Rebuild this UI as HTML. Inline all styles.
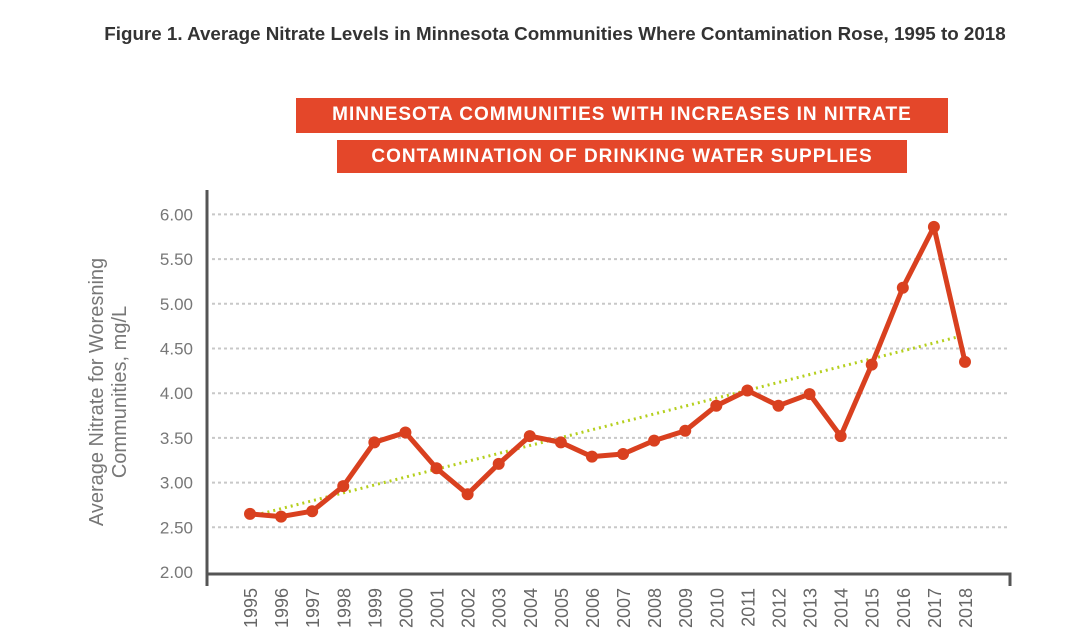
<!DOCTYPE html>
<html><head><meta charset="utf-8"><style>
body{margin:0;background:#fff;width:1090px;height:631px;overflow:hidden;font-family:"Liberation Sans",sans-serif}
.title{position:absolute;top:23px;left:0;width:1110px;text-align:center;font-weight:bold;font-size:18.8px;color:#333}
.ban{position:absolute;background:#e4472a;color:#fff;font-size:19px;letter-spacing:1.5px;text-align:center;line-height:34px;font-weight:bold}
</style></head><body>
<div class="title">Figure 1. Average Nitrate Levels in Minnesota Communities Where Contamination Rose, 1995 to 2018</div>
<div class="ban" style="left:296px;top:98px;width:652px;height:35px;letter-spacing:1px">MINNESOTA COMMUNITIES WITH INCREASES IN NITRATE</div>
<div class="ban" style="left:337px;top:140px;width:570px;height:33px;letter-spacing:1px">CONTAMINATION OF DRINKING WATER SUPPLIES</div>
<svg id="chart" width="1090" height="631" style="position:absolute;left:0;top:0"></svg>
<script>
const years=[1995,1996,1997,1998,1999,2000,2001,2002,2003,2004,2005,2006,2007,2008,2009,2010,2011,2012,2013,2014,2015,2016,2017,2018];
const values=[2.65,2.62,2.68,2.96,3.45,3.56,3.16,2.87,3.21,3.52,3.45,3.29,3.32,3.47,3.58,3.86,4.03,3.86,3.99,3.52,4.32,5.18,5.86,4.35];
const yTicks=[2.00,2.50,3.00,3.50,4.00,4.50,5.00,5.50,6.00];
const trendStart=2.62, trendEnd=4.65;
const NS="http://www.w3.org/2000/svg";
const svg=document.getElementById('chart');
function x(i){return 250+i*(965-250)/(years.length-1);}
function y(v){return 572-(v-2)*89.4;}
function mk(t,a){const e=document.createElementNS(NS,t);for(const k in a)e.setAttribute(k,a[k]);svg.appendChild(e);return e;}
yTicks.forEach(v=>{
  if(v>2){const g=mk('line',{x1:212,x2:1008,y1:y(v),y2:y(v),stroke:'#c8c8c8','stroke-width':2,'stroke-dasharray':'3 3'});
  
  }
  const t=mk('text',{x:193,y:y(v)+6,'text-anchor':'end','font-size':17,fill:'#777','font-family':'Liberation Sans, sans-serif'});
  t.textContent=v.toFixed(2);
  
  
});
const ya=mk('line',{x1:207,x2:207,y1:190,y2:586,stroke:'#555','stroke-width':3});


const xa=mk('polyline',{points:'207,574 1010,574 1010,586',fill:'none',stroke:'#555','stroke-width':3});


years.forEach((yr,i)=>{
  const t=mk('text',{x:0,y:0,'text-anchor':'end','font-size':18,fill:'#666','font-family':'Liberation Sans, sans-serif',transform:`translate(${x(i)+7},588) rotate(-90)`});
  t.textContent=yr;
  
  
});
const tr=mk('line',{x1:x(0),y1:y(trendStart),x2:x(years.length-1),y2:y(trendEnd),stroke:'#b5cf1e','stroke-width':3,'stroke-dasharray':'2 4'});


const ln=mk('polyline',{points:values.map((v,i)=>x(i)+','+y(v)).join(' '),fill:'none',stroke:'#d9401f','stroke-width':5,'stroke-linejoin':'round'});


values.forEach((v,i)=>{
  const c=mk('circle',{cx:x(i),cy:y(v),r:6,fill:'#d9401f'});
  
  
});
const yl=mk('text',{'text-anchor':'middle','font-size':20,fill:'#777','font-family':'Liberation Sans, sans-serif',transform:'translate(103,392) rotate(-90)'});


const t1=document.createElementNS(NS,'tspan');t1.setAttribute('x',0);t1.setAttribute('dy',0);t1.textContent='Average Nitrate for Woresning';yl.appendChild(t1);
const t2=document.createElementNS(NS,'tspan');t2.setAttribute('x',0);t2.setAttribute('dy',23);t2.textContent='Communities, mg/L';yl.appendChild(t2);
</script>
</body></html>
